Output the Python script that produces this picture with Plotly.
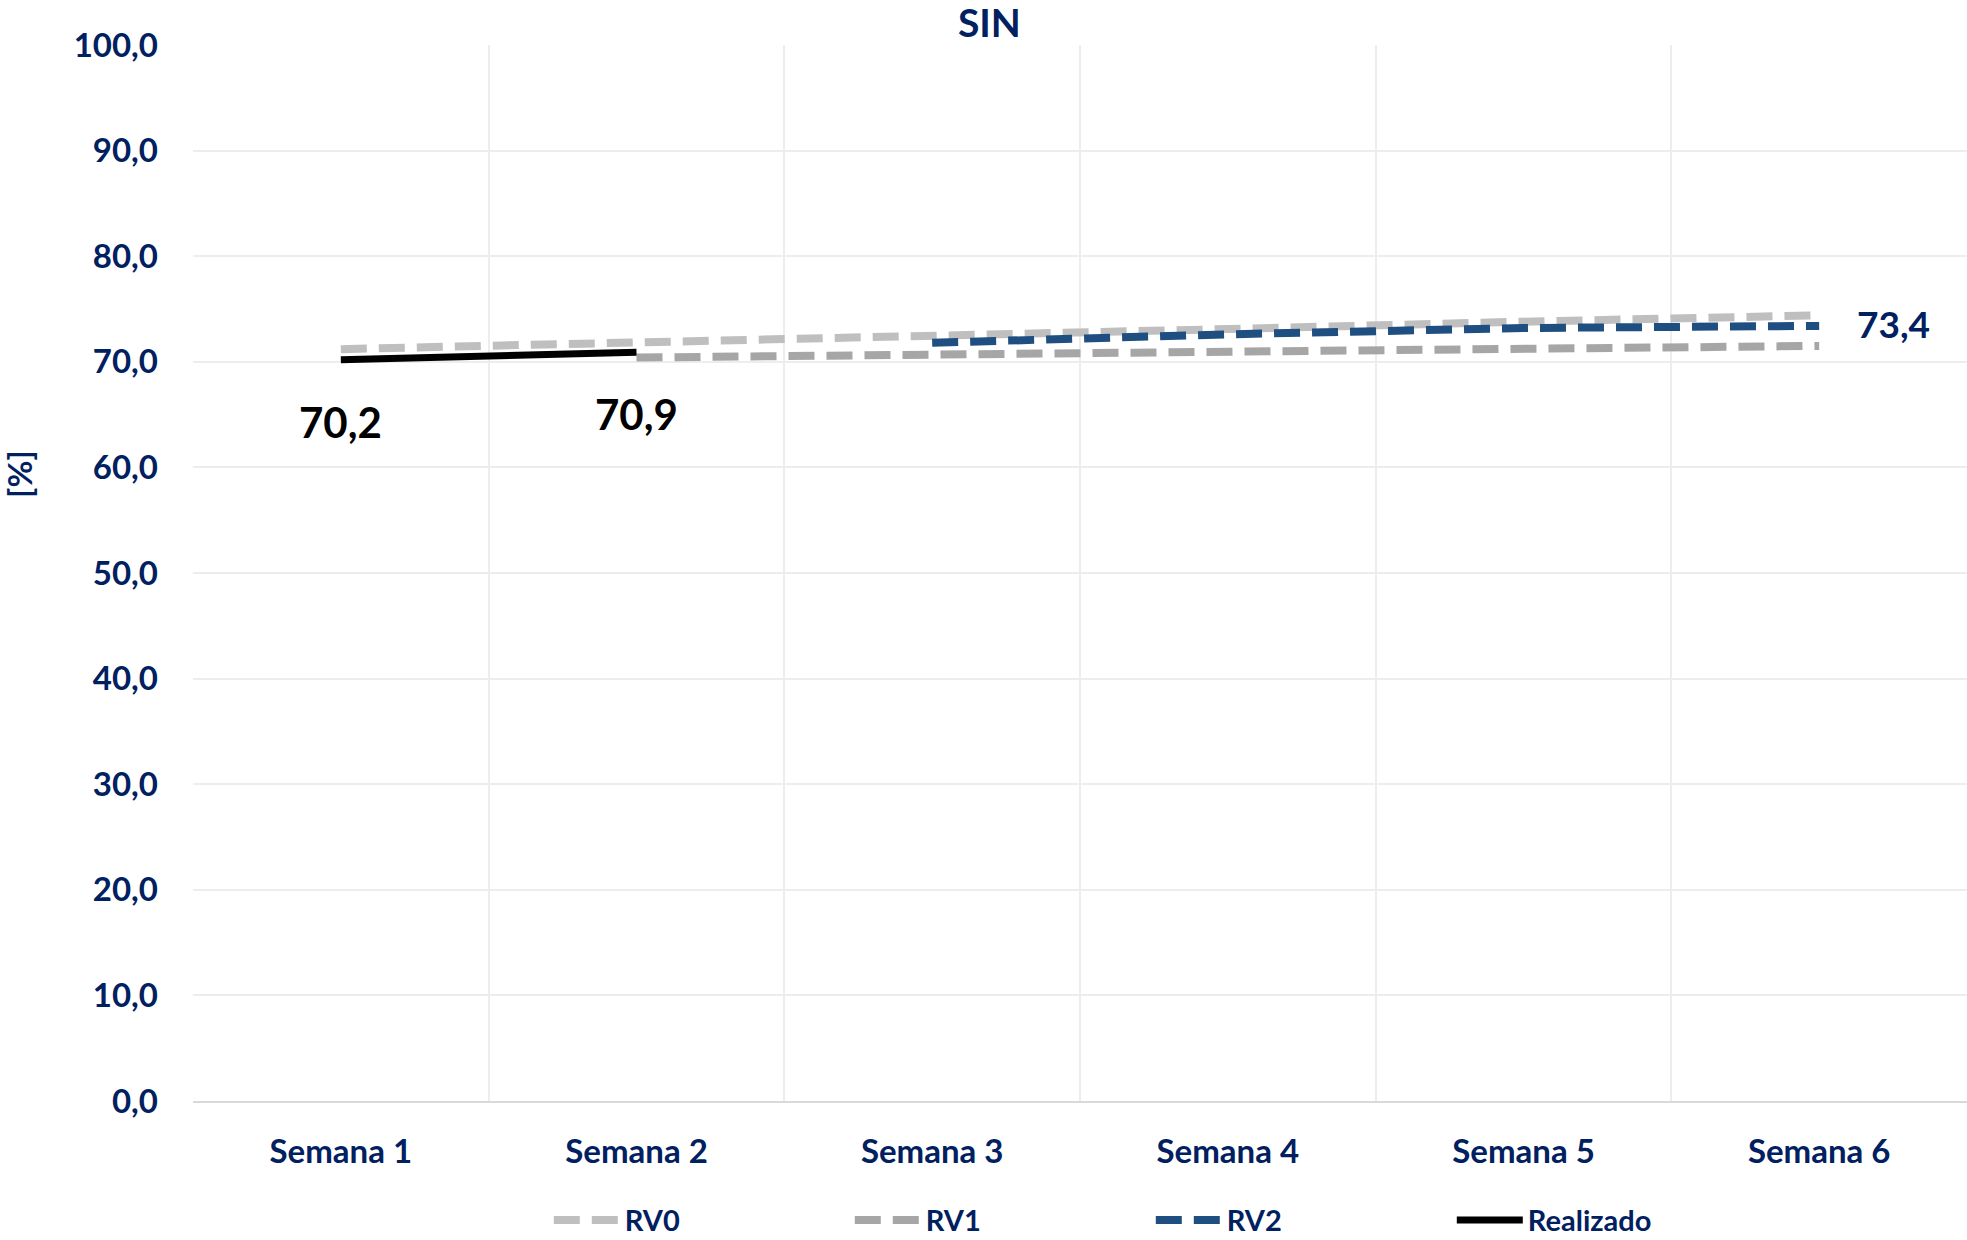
import plotly.graph_objects as go

categories = ["Semana 1", "Semana 2", "Semana 3", "Semana 4", "Semana 5", "Semana 6"]
rv0 = [71.2, 71.8, 72.5, 73.1, 73.8, 74.4]
rv1 = [None, 70.4, 70.7, 71.0, 71.3, 71.5]
rv2 = [None, None, 71.8, 72.6, 73.2, 73.4]
realizado = [70.2, 70.9, None, None, None, None]
y_ticks = [0, 10, 20, 30, 40, 50, 60, 70, 80, 90, 100]
y_ticktext = ["0,0", "10,0", "20,0", "30,0", "40,0", "50,0", "60,0", "70,0", "80,0", "90,0", "100,0"]

NAVY = "#002060"
FONT = "Lato, Open Sans, sans-serif"

def fmt(v):
    return f"{v:.1f}".replace(".", ",")

fig = go.Figure()
fig.add_trace(go.Scatter(x=categories, y=rv0, name="RV0", mode="lines",
                         line=dict(color="#BFBFBF", width=8, dash="26px,12px")))
fig.add_trace(go.Scatter(x=categories, y=rv1, name="RV1", mode="lines",
                         line=dict(color="#A6A6A6", width=8, dash="26px,12px")))
fig.add_trace(go.Scatter(x=categories, y=rv2, name="RV2", mode="lines",
                         line=dict(color="#1F4E80", width=8, dash="26px,12px")))
fig.add_trace(go.Scatter(x=categories, y=realizado, name="Realizado", mode="lines",
                         line=dict(color="#000000", width=7)))

annotations = []
for c, v in zip(categories, realizado):
    if v is not None:
        annotations.append(dict(x=c, y=v, text=fmt(v), showarrow=False,
                                yshift=-62, font=dict(size=42, color="#000000", family=FONT, weight="bold")))
last_idx = len(rv2) - 1
annotations.append(dict(x=categories[last_idx], y=rv2[last_idx], text=fmt(rv2[last_idx]),
                        showarrow=False, xanchor="left", xshift=36, yshift=2,
                        font=dict(size=37, color=NAVY, family=FONT, weight="bold")))
annotations.append(dict(x=-0.098, y=0.594, xref="paper", yref="paper", text="[%]", textangle=-90,
                        showarrow=False, xanchor="center", yanchor="middle",
                        font=dict(size=33, color=NAVY, family=FONT, weight="bold")))

fig.update_layout(
    width=1967, height=1240, autosize=False,
    paper_bgcolor="white", plot_bgcolor="white",
    margin=dict(l=193, r=0, t=45, b=139),
    font=dict(family=FONT, color=NAVY),
    title=dict(text="SIN", x=0.503, xref="container", y=0.981, yref="container",
               xanchor="center", yanchor="middle", font=dict(size=39, color=NAVY, family=FONT, weight="bold")),
    showlegend=True,
    legend=dict(orientation="h", x=0.279, xref="container", xanchor="left", y=0.016, yref="container",
                yanchor="middle", font=dict(size=29, color=NAVY, family=FONT, weight="bold"),
                entrywidth=220, entrywidthmode="pixels", itemwidth=66, bgcolor="rgba(0,0,0,0)"),
    annotations=annotations,
)
fig.update_xaxes(type="category", tickson="boundaries", showgrid=True, gridcolor="#EDEDED", gridwidth=1.5,
                 showline=True, linecolor="#D9D9D9", linewidth=2, ticks="", ticklabelstandoff=20,
                 automargin=False,
                 tickfont=dict(size=33, color=NAVY, family=FONT, weight="bold"), range=[-0.5, 5.5])
fig.update_yaxes(range=[0, 100], tickvals=y_ticks, ticktext=y_ticktext, showgrid=True,
                 gridcolor="#EDEDED", gridwidth=1.5, zeroline=False, showline=False, ticks="",
                 automargin=False, ticklabelstandoff=34,
                 tickfont=dict(size=33, color=NAVY, family=FONT, weight="bold"))

fig.write_html("out.html", config={"displayModeBar": False},
               post_script="document.body.style.margin='0px';document.body.style.overflow='hidden';")
